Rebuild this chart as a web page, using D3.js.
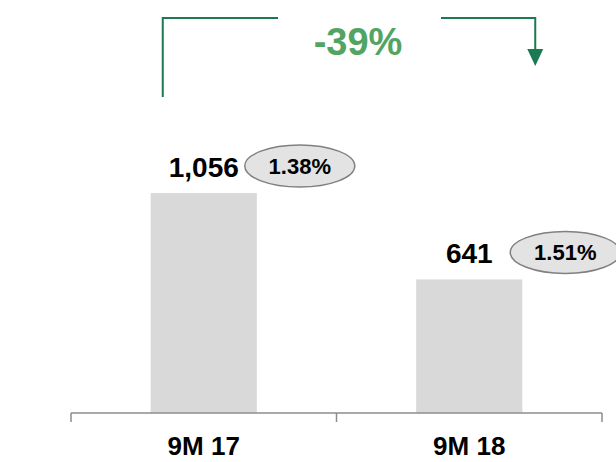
<!DOCTYPE html>
<html>
<head>
<meta charset="utf-8">
<script src="https://cdn.jsdelivr.net/npm/d3@7"></script>
<style>
  body { margin: 0; background: #fff; }
  text { font-family: "Liberation Sans", Arial, sans-serif; font-weight: bold; }
</style>
</head>
<body>
<svg class="chart-svg" width="616" height="462"></svg>
<script>
var categories = ["9M 17", "9M 18"];
var values = [1056, 641];
var valueLabels = ["1,056", "641"];
var ratios = ["1.38%", "1.51%"];
var changeLabel = "-39%";

function drawChart(){
    var svg = d3.select(".chart-svg");

    var x = d3.scaleBand().domain(categories).range([71, 602]);
    var y = d3.scaleLinear().domain([0, 1056]).range([413, 193]);
    var barW = x.bandwidth() * 0.4;

    // bars
    svg.selectAll()
        .data(values).enter()
        .append("rect")
        .attr("fill", "#d9d9d9")
        .attr("x", function(d, i) { return x(categories[i]) + (x.bandwidth() - barW) / 2 })
        .attr("y", function(d) { return y(d) })
        .attr("width", barW)
        .attr("height", function(d) { return y(0) - y(d) });

    // axis line with ticks at band edges
    var axis = svg.append("g").attr("stroke", "#8c8c8c").attr("stroke-width", 1.5);
    axis.append("line")
        .attr("x1", x.range()[0]).attr("x2", x.range()[1])
        .attr("y1", y(0)).attr("y2", y(0));
    var edges = categories.map(function(c) { return x(c) }).concat([x.range()[1]]);
    axis.selectAll()
        .data(edges).enter()
        .append("line")
        .attr("x1", function(d) { return d }).attr("x2", function(d) { return d })
        .attr("y1", y(0)).attr("y2", y(0) + 9);

    // category labels
    svg.selectAll()
        .data(categories).enter()
        .append("text")
        .attr("x", function(d) { return x(d) + x.bandwidth() / 2 })
        .attr("y", 455)
        .attr("text-anchor", "middle")
        .attr("font-size", 26)
        .attr("fill", "#000")
        .text(function(d) { return d });

    // value labels
    svg.selectAll()
        .data(values).enter()
        .append("text")
        .attr("x", function(d, i) { return x(categories[i]) + x.bandwidth() / 2 })
        .attr("y", function(d) { return y(d) - 16 })
        .attr("text-anchor", "middle")
        .attr("font-size", 28)
        .attr("fill", "#000")
        .text(function(d, i) { return valueLabels[i] });

    // ratio bubbles
    var bubbles = svg.selectAll()
        .data(values).enter()
        .append("g")
        .attr("transform", function(d, i) {
            return "translate(" + (x(categories[i]) + x.bandwidth() / 2 + 96) + "," + (y(d) - 27) + ")";
        });
    bubbles.append("ellipse")
        .attr("rx", 55).attr("ry", 21)
        .attr("fill", "#e3e3e3")
        .attr("stroke", "#808080")
        .attr("stroke-width", 1.5);
    bubbles.append("text")
        .attr("y", 8)
        .attr("text-anchor", "middle")
        .attr("font-size", 22)
        .attr("fill", "#000")
        .text(function(d, i) { return ratios[i] });

    // change bracket
    var green = "#1b7a52";
    var lx = x(categories[0]) + x.bandwidth() / 2 - 41;
    var rx = x(categories[1]) + x.bandwidth() / 2 + 66;
    svg.append("path")
        .attr("d", "M" + lx + ",97 V18 H278 M441,18 H" + rx + " V50")
        .attr("fill", "none")
        .attr("stroke", green)
        .attr("stroke-width", 2);
    svg.append("path")
        .attr("d", "M" + (rx - 8) + ",49 L" + (rx + 8) + ",49 L" + rx + ",66 Z")
        .attr("fill", green);
    svg.append("text")
        .attr("x", 358)
        .attr("y", 55)
        .attr("text-anchor", "middle")
        .attr("font-size", 38)
        .attr("fill", "#52a462")
        .text(changeLabel);
}

drawChart();
</script>
</body>
</html>
